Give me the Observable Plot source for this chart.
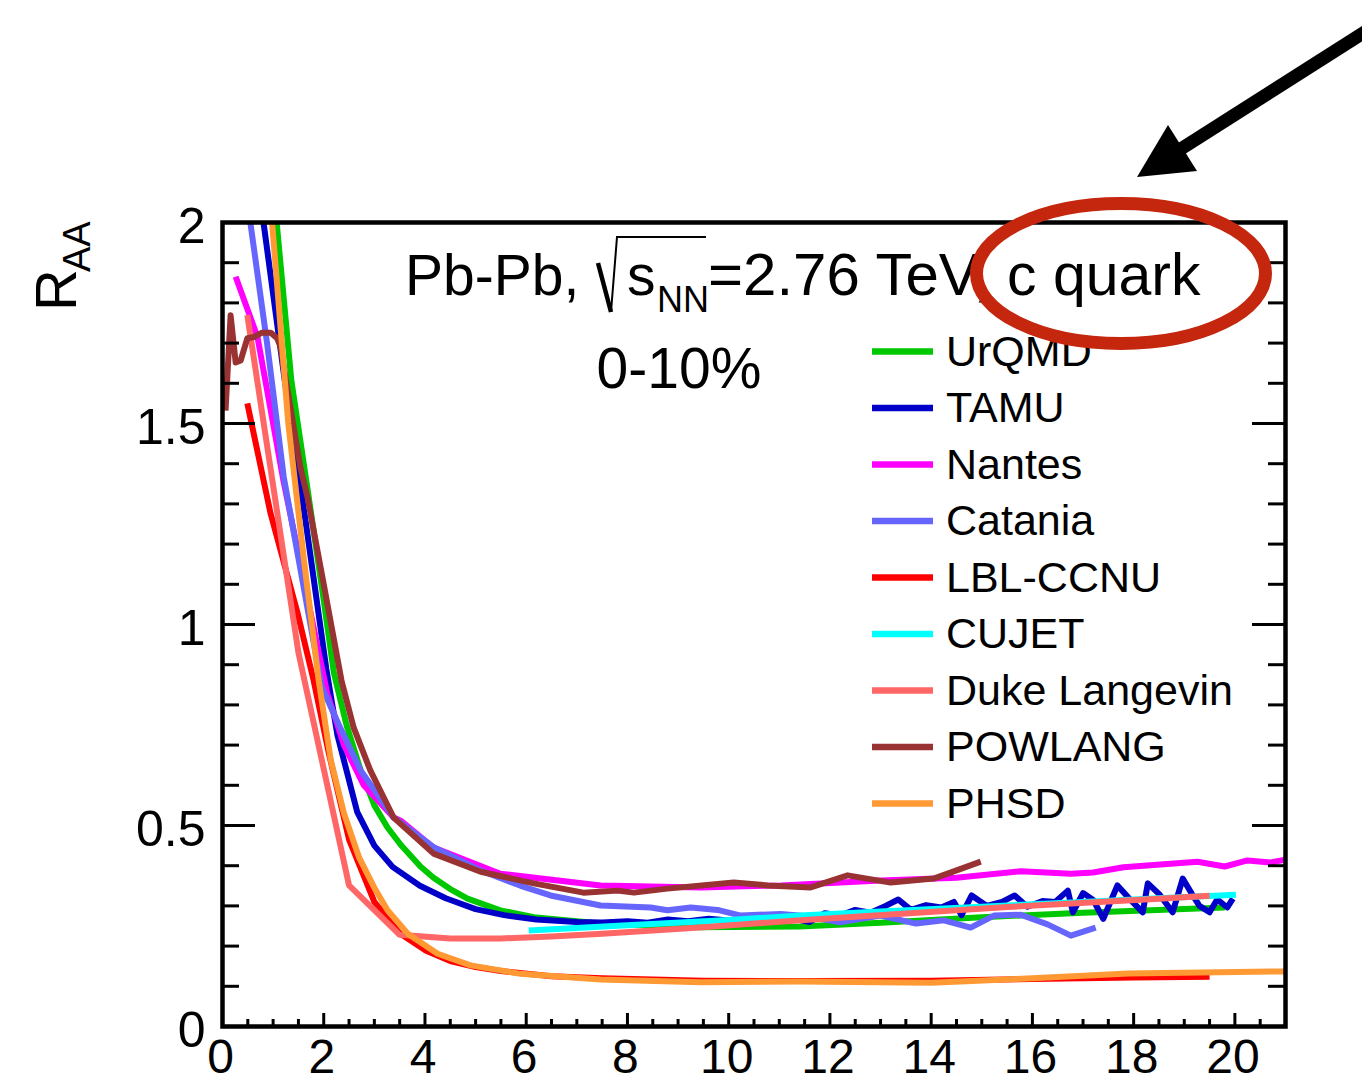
<!DOCTYPE html>
<html>
<head>
<meta charset="utf-8">
<script src="https://cdn.jsdelivr.net/npm/d3@7"></script>
<script src="https://cdn.jsdelivr.net/npm/@observablehq/plot@0.6"></script>
<style>
  html, body { margin: 0; padding: 0; background: #fff; }
  #wrap { position: relative; width: 1362px; height: 1082px; overflow: hidden; font-family: "Liberation Sans", Arial, Helvetica, sans-serif; }
  #wrap > svg { position: absolute; left: 0; top: 0; }
</style>
</head>
<body>
<div id="wrap"></div>
<script>
// ---------------- data ----------------
const seriesNames  = ["UrQMD", "TAMU", "Nantes", "Catania", "LBL-CCNU", "CUJET", "Duke Langevin", "POWLANG", "PHSD"];
const seriesColors = ["#00c800", "#0000c8", "#ff00ff", "#6666ff", "#ff0000", "#00ffff", "#ff6666", "#993333", "#ff9933"];

const urqmdX = [1.07, 1.36, 1.7, 2.0, 2.2, 2.45, 2.73, 3.0, 3.26, 3.52, 3.91, 4.17, 4.5, 4.84, 5.49, 6.15, 7.47, 9.45, 11.4, 13.0, 15.0, 17.0, 19.8];
const urqmdY = [2.0, 1.607, 1.32, 1.06, 0.88, 0.75, 0.637, 0.55, 0.495, 0.452, 0.398, 0.37, 0.342, 0.318, 0.289, 0.272, 0.256, 0.247, 0.249, 0.258, 0.272, 0.283, 0.296];

const tamuX = [0.81, 1.23, 1.65, 2.05, 2.27, 2.66, 3.0, 3.36, 3.9, 4.41, 5.0, 5.56, 6.2, 7.0, 7.5, 8.0, 8.4, 8.8, 9.2, 9.6, 10.0, 10.4, 10.8, 11.0, 11.3, 11.6, 11.9, 12.2, 12.5, 12.8, 13.1, 13.35, 13.6, 13.9, 14.2, 14.45, 14.6, 14.8, 15.1, 15.4, 15.65, 15.9, 16.2, 16.45, 16.7, 16.8, 17.0, 17.2, 17.4, 17.68, 17.9, 18.18, 18.28, 18.5, 18.77, 18.97, 19.15, 19.3, 19.5, 19.65, 19.85, 19.96];
const tamuY = [2.0, 1.607, 1.25, 0.89, 0.725, 0.534, 0.45, 0.397, 0.35, 0.319, 0.292, 0.277, 0.266, 0.26, 0.259, 0.262, 0.258, 0.266, 0.262, 0.268, 0.264, 0.27, 0.266, 0.272, 0.268, 0.26, 0.282, 0.276, 0.29, 0.283, 0.3, 0.316, 0.29, 0.302, 0.296, 0.31, 0.277, 0.326, 0.3, 0.31, 0.326, 0.298, 0.312, 0.31, 0.338, 0.284, 0.332, 0.315, 0.268, 0.351, 0.32, 0.284, 0.356, 0.33, 0.284, 0.368, 0.33, 0.3, 0.284, 0.316, 0.296, 0.318];

const nantesX = [0.26, 0.69, 1.0, 1.2, 1.6, 2.07, 2.4, 2.79, 3.38, 3.52, 4.17, 5.49, 7.47, 9.45, 11.03, 13.0, 14.5, 15.77, 16.76, 17.2, 17.8, 19.26, 19.8, 20.25, 20.7, 21.0];
const nantesY = [1.865, 1.716, 1.5, 1.36, 1.115, 0.828, 0.7, 0.6, 0.52, 0.512, 0.445, 0.38, 0.351, 0.346, 0.351, 0.363, 0.37, 0.386, 0.38, 0.383, 0.396, 0.41, 0.398, 0.413, 0.408, 0.415];

const cataniaX = [0.55, 0.88, 1.21, 1.6, 1.96, 2.3, 2.73, 3.38, 4.17, 5.1, 5.89, 6.48, 7.47, 8.46, 8.79, 9.25, 9.78, 10.24, 11.03, 11.5, 12.2, 13.0, 13.7, 14.25, 14.78, 15.24, 15.77, 16.3, 16.76, 17.25];
const cataniaY = [2.0, 1.70, 1.367, 1.095, 0.845, 0.75, 0.637, 0.52, 0.446, 0.388, 0.35, 0.326, 0.301, 0.296, 0.289, 0.296, 0.29, 0.276, 0.28, 0.275, 0.259, 0.276, 0.256, 0.264, 0.246, 0.276, 0.278, 0.254, 0.226, 0.246];

const lblX = [0.49, 0.95, 1.48, 1.8, 2.1, 2.5, 3.0, 3.5, 4.0, 4.5, 5.0, 5.5, 6.5, 7.5, 9.5, 11.5, 14.0, 16.0, 18.0, 19.5];
const lblY = [1.55, 1.276, 1.03, 0.861, 0.68, 0.465, 0.31, 0.232, 0.19, 0.163, 0.148, 0.138, 0.125, 0.12, 0.114, 0.113, 0.114, 0.118, 0.122, 0.124];

const cujetX = [6.05, 8.0, 10.0, 11.42, 13.0, 15.0, 17.0, 18.5, 20.02];
const cujetY = [0.239, 0.252, 0.265, 0.276, 0.286, 0.298, 0.31, 0.319, 0.328];

const dukeX = [0.49, 1.5, 2.5, 3.5, 4.5, 5.5, 6.5, 7.5, 8.5, 9.5, 10.5, 11.5, 12.5, 13.5, 14.5, 15.5, 16.5, 17.5, 18.5, 19.5];
const dukeY = [1.77, 0.93, 0.351, 0.228, 0.219, 0.219, 0.224, 0.231, 0.239, 0.247, 0.256, 0.265, 0.273, 0.281, 0.289, 0.297, 0.304, 0.311, 0.318, 0.325];

const powlangX = [0.06, 0.16, 0.26, 0.36, 0.49, 0.62, 0.78, 0.95, 1.08, 1.15, 1.21, 1.54, 1.68, 2.0, 2.35, 2.59, 2.92, 3.38, 4.17, 5.1, 6.15, 7.13, 7.8, 8.13, 8.79, 10.1, 10.77, 11.62, 12.35, 13.2, 14.05, 14.98];
const powlangY = [1.532, 1.769, 1.652, 1.657, 1.712, 1.715, 1.726, 1.726, 1.712, 1.69, 1.64, 1.39, 1.316, 1.1, 0.861, 0.744, 0.637, 0.52, 0.43, 0.385, 0.356, 0.333, 0.338, 0.333, 0.343, 0.358, 0.351, 0.346, 0.376, 0.358, 0.368, 0.41];

const phsdX = [0.98, 1.3, 1.6, 1.9, 2.14, 2.4, 2.7, 3.0, 3.26, 3.66, 4.25, 4.9, 5.89, 7.47, 9.45, 11.4, 14.0, 16.0, 17.9, 21.0];
const phsdY = [2.0, 1.5, 1.17, 0.861, 0.662, 0.53, 0.42, 0.345, 0.289, 0.231, 0.181, 0.152, 0.131, 0.117, 0.11, 0.112, 0.109, 0.12, 0.132, 0.137];

const seriesX = [urqmdX, tamuX, nantesX, cataniaX, lblX, cujetX, dukeX, powlangX, phsdX];
const seriesY = [urqmdY, tamuY, nantesY, cataniaY, lblY, cujetY, dukeY, powlangY, phsdY];

const xTicks = [0, 2, 4, 6, 8, 10, 12, 14, 16, 18, 20];
const xTickLabels = ["0", "2", "4", "6", "8", "10", "12", "14", "16", "18", "20"];
const xMinorTicks = [0.5, 1, 1.5, 2.5, 3, 3.5, 4.5, 5, 5.5, 6.5, 7, 7.5, 8.5, 9, 9.5, 10.5, 11, 11.5, 12.5, 13, 13.5, 14.5, 15, 15.5, 16.5, 17, 17.5, 18.5, 19, 19.5, 20.5];
const yTicks = [0, 0.5, 1, 1.5, 2];
const yTickLabels = ["0", "0.5", "1", "1.5", "2"];
const yMinorTicks = [0.1, 0.2, 0.3, 0.4, 0.6, 0.7, 0.8, 0.9, 1.1, 1.2, 1.3, 1.4, 1.6, 1.7, 1.8, 1.9];

// ---------------- layout ----------------
const W = 1362, H = 1082;
const mL = 222, mR = 77, mT = 222, mB = 56;
const fw = W - mL - mR, fh = H - mT - mB;
const FONT = '"Liberation Sans", Arial, Helvetica, sans-serif';

const rows = seriesNames.map((name, k) => seriesX[k].map((x, i) => ({series: name, x, y: seriesY[k][i]})));

const lineMarks = rows.map((r, k) => Plot.line(r, {
  x: "x", y: "y", stroke: seriesColors[k], strokeWidth: 6,
  strokeLinecap: "butt", strokeLinejoin: "round", clip: true
}));

const tickStyle = {stroke: "black", strokeWidth: 3};

const chart = Plot.plot({
  width: W, height: H,
  marginLeft: mL, marginRight: mR, marginTop: mT, marginBottom: mB,
  style: {fontFamily: FONT, background: "transparent", color: "black"},
  x: {domain: [0, 21], axis: null},
  y: {domain: [0, 2], axis: null},
  marks: [
    ...lineMarks,
    // ticks (ROOT style, inside)
    Plot.tickY(yTicks, {y: d => d, insetRight: fw - 33, ...tickStyle}),
    Plot.tickY(yMinorTicks, {y: d => d, insetRight: fw - 17, ...tickStyle}),
    Plot.tickY(yTicks, {y: d => d, insetLeft: fw - 33, ...tickStyle}),
    Plot.tickY(yMinorTicks, {y: d => d, insetLeft: fw - 17, ...tickStyle}),
    Plot.tickX(xTicks, {x: d => d, insetTop: fh - 13, ...tickStyle}),
    Plot.tickX(xMinorTicks, {x: d => d, insetTop: fh - 7, ...tickStyle}),
    Plot.frame({stroke: "black", strokeWidth: 4.5}),
    // tick labels
    Plot.text(yTicks, {y: d => d, text: (d, i) => yTickLabels[i], frameAnchor: "left", textAnchor: "end", dx: -17, dy: 4, fontSize: 50, fill: "black"}),
    Plot.text(xTicks, {x: d => d, text: (d, i) => xTickLabels[i], frameAnchor: "bottom", lineAnchor: "top", dx: -2, dy: 12, fontSize: 48, fill: "black"})
  ]
});

const wrap = document.getElementById("wrap");
wrap.appendChild(chart);

// ---------------- overlay: texts, legend, annotations ----------------
const ov = d3.select(wrap).append("svg")
  .attr("width", W).attr("height", H)
  .attr("font-family", FONT)
  .style("pointer-events", "none");

// y-axis title R_AA
ov.append("text").attr("transform", "translate(76,311) rotate(-90)").attr("font-size", 58).text("R");
ov.append("text").attr("transform", "translate(90,272) rotate(-90)").attr("font-size", 38).text("AA");

// header text
ov.append("text").attr("x", 405).attr("y", 295).attr("font-size", 57).text("Pb-Pb,");
ov.append("path").attr("d", "M598,263 L611,312").attr("stroke", "black").attr("stroke-width", 4.5).attr("fill", "none");
ov.append("path").attr("d", "M611,312 L617,237 L706,237").attr("stroke", "black").attr("stroke-width", 2).attr("fill", "none");
ov.append("text").attr("x", 627).attr("y", 295).attr("font-size", 57).text("s");
ov.append("text").attr("x", 657).attr("y", 312).attr("font-size", 36).text("NN");
ov.append("text").attr("x", 708).attr("y", 295).attr("font-size", 60).text("=2.76 TeV,");
ov.append("text").attr("x", 1007).attr("y", 295).attr("font-size", 59).text("c quark");
ov.append("text").attr("x", 679).attr("y", 388).attr("font-size", 57).attr("text-anchor", "middle").text("0-10%");

// legend
const leg = ov.append("g");
seriesNames.forEach((name, i) => {
  const cy = 351.5 + i * 56.5;
  leg.append("line").attr("x1", 872).attr("x2", 933).attr("y1", cy).attr("y2", cy)
    .attr("stroke", seriesColors[i]).attr("stroke-width", 6.5);
  leg.append("text").attr("x", 946).attr("y", cy + 14).attr("font-size", 43).text(name);
});

// red ellipse annotation
ov.append("ellipse").attr("cx", 1121).attr("cy", 273.5).attr("rx", 144.5).attr("ry", 70)
  .attr("fill", "none").attr("stroke", "#c4260e").attr("stroke-width", 13);

// arrow annotation
ov.append("line").attr("x1", 1390).attr("y1", 16).attr("x2", 1180).attr("y2", 149.5)
  .attr("stroke", "black").attr("stroke-width", 13);
ov.append("polygon").attr("points", "1137,177 1168,125 1197,171").attr("fill", "black");
</script>
</body>
</html>
